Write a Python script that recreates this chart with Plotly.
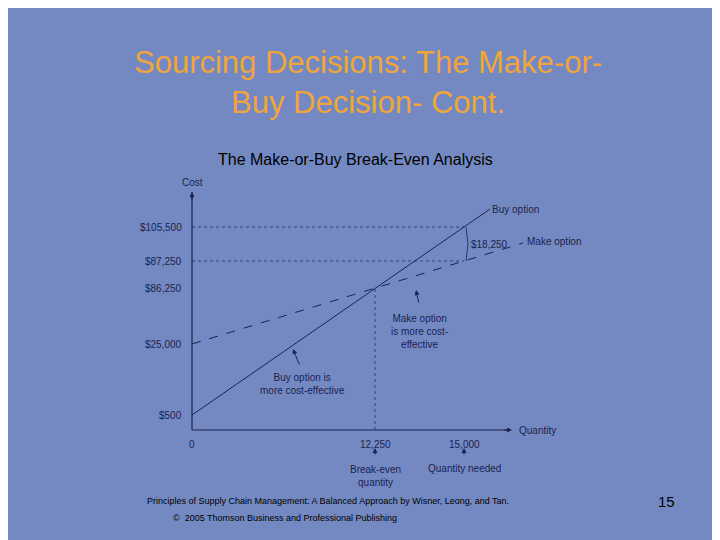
import plotly.graph_objects as go

# Schematic (non-linear) positions as in the original textbook figure
cost_labels = ["$500", "$25,000", "$86,250", "$87,250", "$105,500"]
cost_pos = [15, 86, 142, 169, 203]
qty_labels = ["0", "12,250", "15,000"]
qty_pos = [0, 183, 272]
buy_x = [0, 298]
buy_y = [15, 221]
make_x = [0, 331]
make_y = [86, 187]

ink = "#1a2350"
fig = go.Figure()
fig.add_trace(go.Scatter(x=buy_x, y=buy_y, mode="lines", line=dict(color=ink, width=1)))
fig.add_trace(go.Scatter(x=make_x, y=make_y, mode="lines", line=dict(color=ink, width=1, dash="dash")))
fig.add_trace(go.Scatter(x=[0, qty_pos[2], None, 0, qty_pos[2], None, qty_pos[1], qty_pos[1]],
                         y=[cost_pos[4], cost_pos[4], None, cost_pos[3], cost_pos[3], None, 0, cost_pos[2]],
                         mode="lines", line=dict(color=ink, width=0.7, dash="dot")))
fig.add_trace(go.Scatter(x=[qty_pos[2]+2, qty_pos[2]+4, qty_pos[2]+2], y=[cost_pos[4], (cost_pos[3]+cost_pos[4])/2, cost_pos[3]],
                         mode="lines", line=dict(color=ink, width=0.8)))
fig.add_trace(go.Scatter(x=[0, 0, None, 0, 318], y=[0, 238, None, 0, 0], mode="lines", line=dict(color=ink, width=1.2)))

f = dict(family="Liberation Sans, Arial", size=10, color=ink)
ann = []
def arrow(x, y, ax, ay):
    ann.append(dict(x=x, y=y, ax=ax, ay=ay, xref="x", yref="y", axref="x", ayref="y",
                    showarrow=True, arrowhead=2, arrowsize=1, arrowwidth=1, arrowcolor=ink, text=""))
arrow(0, 238, 0, 228)
arrow(320, 0, 310, 0)
arrow(qty_pos[1], -18, qty_pos[1], -26)
arrow(qty_pos[2], -18, qty_pos[2], -26)
arrow(101, 81, 108, 64)
arrow(224, 140, 227, 126)
for lab, p in zip(cost_labels, cost_pos):
    ann.append(dict(x=-8, y=p, xref="x", yref="y", text=lab, showarrow=False, xanchor="right", font=f))
for lab, p in zip(qty_labels, qty_pos):
    ann.append(dict(x=p, y=-14, xref="x", yref="y", text=lab, showarrow=False, font=f))
txt = [
    (0, 248, "Cost", "center"),
    (325, 0, "Quantity", "left"),
    (298, 221, "Buy option", "left"),
    (333, 189, "Make option", "left"),
    (277, 186, "$18,250", "left"),
    (183, -46, "Break-even<br>quantity", "center"),
    (272, -38, "Quantity needed", "center"),
    (227, 99, "Make option<br>is more cost-<br>effective", "center"),
    (110, 46, "Buy option is<br>more cost-effective", "center"),
]
for x, y, t, a in txt:
    ann.append(dict(x=x, y=y, xref="x", yref="y", text=t, showarrow=False, xanchor=a, font=f))

ann.append(dict(x=0.5, y=505/540, xref="paper", yref="paper", yanchor="top", showarrow=False,
                text="Sourcing Decisions: The Make-or-<br>Buy Decision- Cont.",
                font=dict(family="Liberation Sans, Arial", size=31, color="#f0a53a")))
ann.append(dict(x=347/720, y=(540-141)/540, xref="paper", yref="paper", showarrow=False,
                text="The Make-or-Buy Break-Even Analysis", font=dict(family="Liberation Sans, Arial", size=16, color="black")))
ann.append(dict(x=137/720, y=(540-500)/540, xref="paper", yref="paper", xanchor="left", showarrow=False,
                text="Principles of Supply Chain Management: A Balanced Approach by Wisner, Leong, and Tan.",
                font=dict(family="Liberation Sans, Arial", size=9, color="black")))
ann.append(dict(x=163/720, y=(540-517)/540, xref="paper", yref="paper", xanchor="left", showarrow=False,
                text="©  2005 Thomson Business and Professional Publishing",
                font=dict(family="Liberation Sans, Arial", size=9, color="black")))
ann.append(dict(x=669/720, y=(540-504)/540, xref="paper", yref="paper", showarrow=False,
                text="15", font=dict(family="Liberation Sans, Arial", size=15, color="black")))

fig.update_layout(width=720, height=540, paper_bgcolor="#7489c2", plot_bgcolor="rgba(0,0,0,0)",
                  margin=dict(l=0, r=0, t=0, b=0), showlegend=False, annotations=ann)
fig.update_xaxes(range=[-60, 380], domain=[124/720, 564/720], visible=False)
fig.update_yaxes(range=[-80, 260], domain=[38/540, 378/540], visible=False)
fig.write_html("out.html")
